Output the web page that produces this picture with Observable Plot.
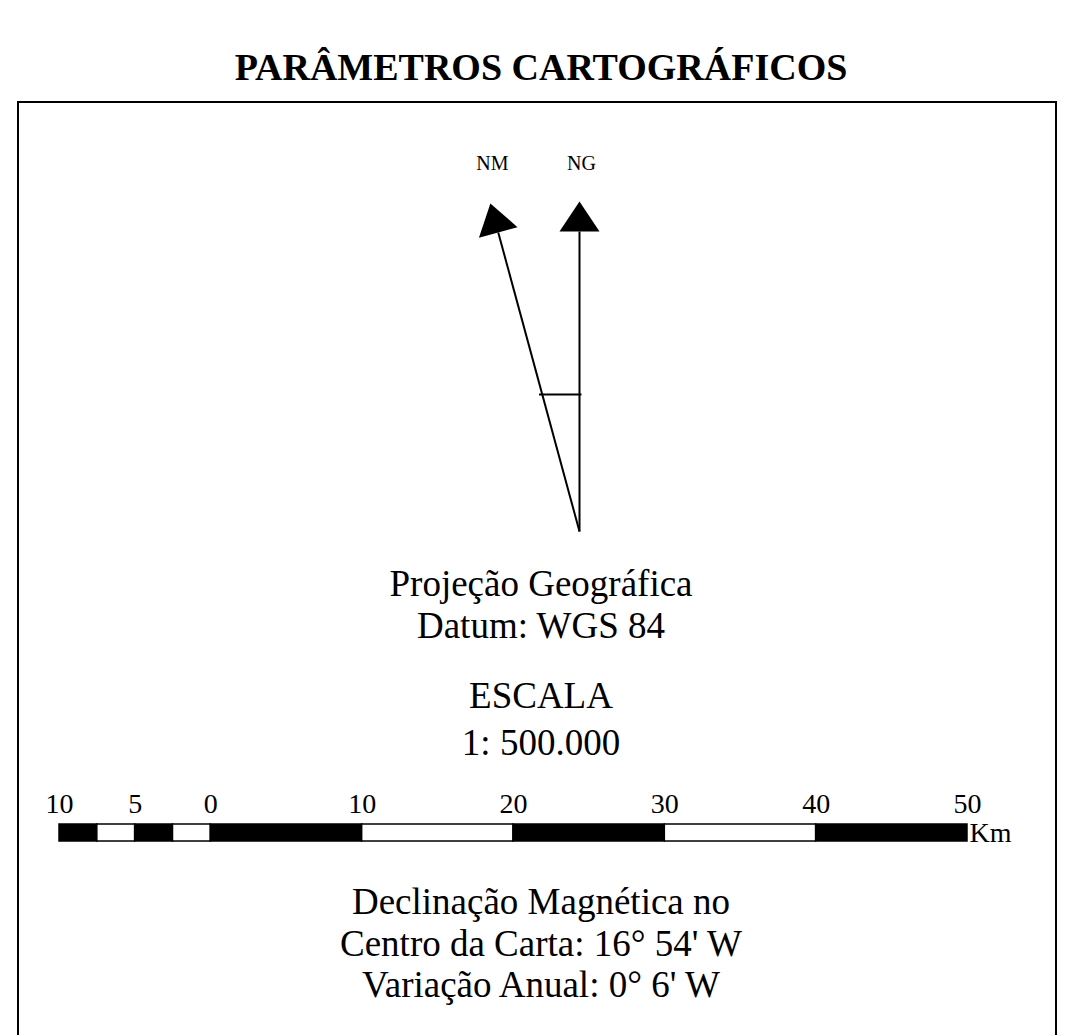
<!DOCTYPE html>
<html><head><meta charset="utf-8">
<script src="https://cdn.jsdelivr.net/npm/d3@7"></script>
<script src="https://cdn.jsdelivr.net/npm/@observablehq/plot@0.6"></script>
<style>
html,body{margin:0;padding:0;background:#fff;}
#page{position:relative;width:1082px;height:1035px;overflow:hidden;font-family:"Liberation Serif","Times New Roman",serif;color:#000;}
.line{position:absolute;left:0;width:1082px;text-align:center;white-space:nowrap;line-height:1;}
#frame{position:absolute;left:17px;top:101px;width:1036px;height:1000px;border:2px solid #000;}
.plot{position:absolute;left:0;}
</style></head><body><div id="page"><div id="frame"></div></div>
<script>
// ---- data ----
const title = "PARÂMETROS CARTOGRÁFICOS";
const northLabels = ["NM", "NG"];
const northAngles = [-15.2, 0];      // degrees from grid north (drawn)
const northLengths = [1.03, 1];      // relative arrow lengths
const crossbarLevel = 0.415;         // relative height of the crossbar
const projectionLines = ["Projeção Geográfica", "Datum: WGS 84"];
const scaleLines = ["ESCALA", "1: 500.000"];
const scaleTicks = [-10, -5, 0, 10, 20, 30, 40, 50];
const scaleBreaks = [-10, -7.5, -5, -2.5, 0, 10, 20, 30, 40, 50];
const scaleTones = ["black", "white", "black", "white", "black", "white", "black", "white", "black"];
const scaleUnit = "Km";
const declinationLines = ["Declinação Magnética no", "Centro da Carta: 16° 54' W", "Variação Anual: 0° 6' W"];

// ---- layout ----
const page = document.getElementById("page");
function addLines(lines, baselines, size, weight) {
  lines.forEach((t, i) => {
    const d = document.createElement("div");
    d.className = "line";
    d.textContent = t;
    d.style.fontSize = size + "px";
    d.style.fontWeight = weight || "normal";
    d.style.top = (baselines[i] - 0.8375 * size) + "px";
    page.appendChild(d);
  });
}
addLines([title], [80], 38, "bold");
addLines(projectionLines, [596, 638], 37);
addLines(scaleLines, [708, 755], 37);
addLines(declinationLines, [914, 956, 997], 37);

// ---- north arrows ----
const rad = a => a * Math.PI / 180;
const headH = 30 / 330;
const arrows = northLabels.map((label, i) => {
  const a = rad(northAngles[i]), L = northLengths[i];
  return {
    label, angle: northAngles[i],
    tipX: Math.sin(a) * L, tipY: Math.cos(a) * L,
    baseX: Math.sin(a) * (L - headH), baseY: Math.cos(a) * (L - headH)
  };
});
const crossLeft = Math.tan(rad(northAngles[0])) * crossbarLevel - 0.01;
const arrowHead = {
  draw(ctx, size) {
    const r = Math.sqrt(size / Math.PI);
    ctx.moveTo(0, -1.5 * r);
    ctx.lineTo(r, 0);
    ctx.lineTo(-r, 0);
    ctx.closePath();
  }
};
const compass = Plot.plot({
  width: 1082, height: 560,
  x: {domain: [-1, 1], range: [249, 909], axis: null},
  y: {domain: [0, 1], range: [531, 201], axis: null},
  style: {fontFamily: "Liberation Serif, Times New Roman, serif", background: "transparent", overflow: "visible"},
  marks: [
    Plot.link(arrows, {x1: 0, y1: 0, x2: "baseX", y2: "baseY", stroke: "black", strokeWidth: 2}),
    Plot.link([crossbarLevel], {x1: crossLeft, x2: 0.006, y1: d => d, y2: d => d, stroke: "black", strokeWidth: 2}),
    Plot.dot(arrows, {x: "baseX", y: "baseY", r: 20, symbol: arrowHead, rotate: "angle", fill: "black", stroke: null}),
    Plot.text(arrows, {x: "tipX", y: 1, text: "label", dx: 2, dy: -32, lineAnchor: "bottom", fontSize: 20, fill: "black"})
  ]
});
compass.classList.add("plot");
compass.style.top = "0px";
page.appendChild(compass);

// ---- scale bar ----
const segments = scaleTones.map((tone, i) => ({x1: scaleBreaks[i], x2: scaleBreaks[i + 1], tone}));
const bar = Plot.plot({
  width: 1082, height: 70,
  marginTop: 44, marginBottom: 9,
  x: {domain: [-10, 50], range: [59, 967]},
  y: {axis: null},
  style: {fontFamily: "Liberation Serif, Times New Roman, serif", fontSize: "28px", background: "transparent", overflow: "visible"},
  marks: [
    Plot.barX(segments, {x1: "x1", x2: "x2", fill: d => d.tone, stroke: "black", strokeWidth: 1.5}),
    Plot.axisX({ticks: scaleTicks, anchor: "top", tickSize: 0, tickPadding: 12, tickFormat: d => Math.abs(d), fontSize: 28, label: null}),
    Plot.text([scaleUnit], {x: 50, frameAnchor: "bottom", textAnchor: "start", lineAnchor: "bottom", dx: 2, fontSize: 28, fill: "black"})
  ]
});
bar.classList.add("plot");
bar.style.top = "780px";
page.appendChild(bar);
</script></body></html>
